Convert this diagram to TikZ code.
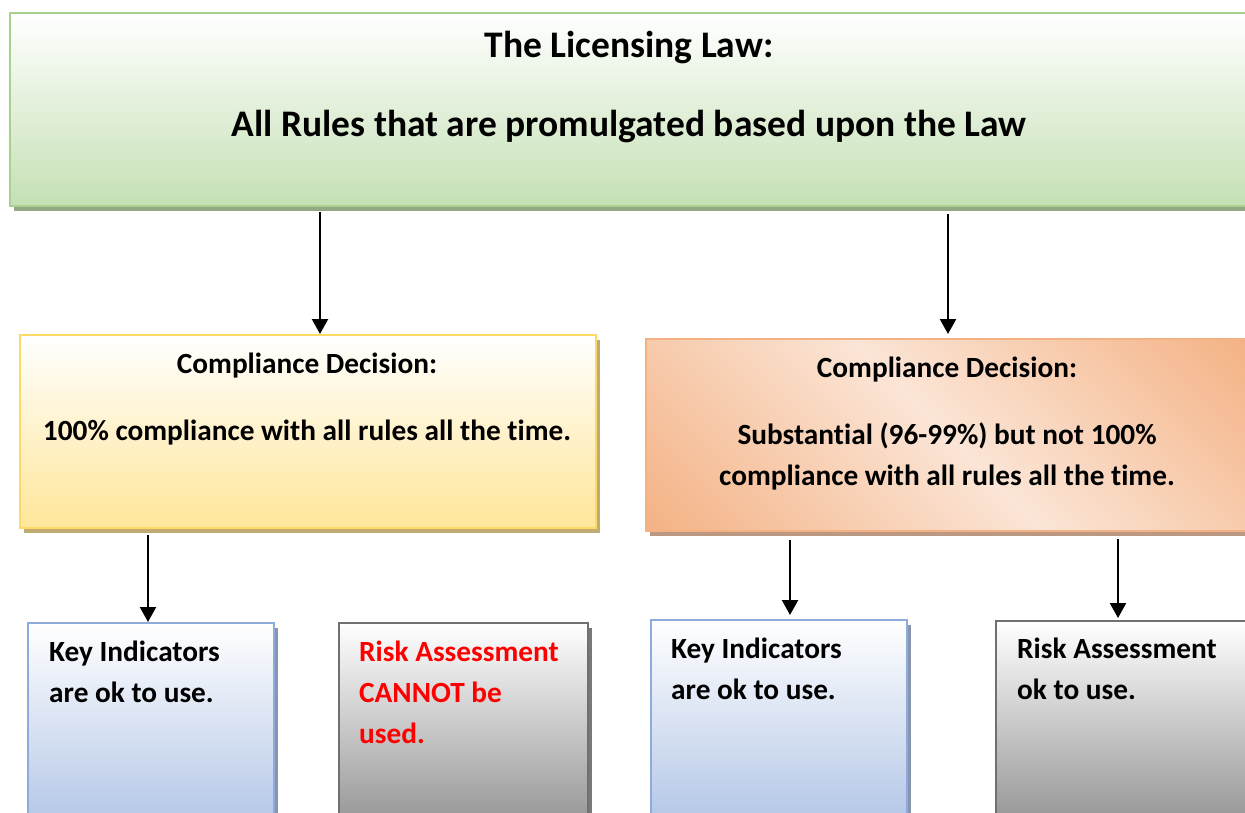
\documentclass[tikz,border=0pt]{standalone}
\usepackage{fontspec}
\setmainfont{Carlito}[Ligatures=NoCommon]
\usetikzlibrary{shadows,arrows.meta}

\definecolor{lawgreen}{HTML}{A9D18E}
\definecolor{lawfill}{HTML}{C5E0B4}
\definecolor{passgold}{HTML}{FFD966}
\definecolor{passfill}{HTML}{FFE699}
\definecolor{peachD}{HTML}{F4B183}
\definecolor{peachL}{HTML}{FBE5D6}
\definecolor{kiblue}{HTML}{8FAADC}
\definecolor{kifill}{HTML}{B4C7E7}
\definecolor{ragray}{HTML}{707070}
\definecolor{rafill}{HTML}{969696}
\definecolor{warnred}{HTML}{FF0000}

\pgfdeclarehorizontalshading{peachband}{100bp}{color(0bp)=(peachD); color(14bp)=(peachD); color(50bp)=(peachL); color(86bp)=(peachD); color(100bp)=(peachD)}

\tikzset{
    box/.style={draw=#1, line width=2pt, anchor=north west, inner sep=0pt,
        drop shadow={shadow xshift=4pt, shadow yshift=-5pt, fill=#1!50!gray, opacity=1}},
    big/.style={inner sep=0pt, font=\bfseries\fontsize{37.5}{44}\selectfont},
    txt/.style={inner sep=0pt, font=\bfseries\fontsize{29.3}{35}\selectfont},
    arr/.style={line width=2.2pt, -{Triangle[length=15pt,width=16pt]}}
}

\begin{document}
\begin{tikzpicture}[x=1pt,y=-1pt]
    \useasboundingbox (0,0) rectangle (1245,813);
    \clip (0,0) rectangle (1245,813);

    % the law and its rules
    \node[box=lawgreen, top color=white, bottom color=lawfill, minimum width=1240pt, minimum height=193pt] (law) at (9,12) {};
    \node[big, anchor=base] (lawA) at (629,58) {The Licensing Law:};
    \node[big, anchor=base] (lawB) at (629,137) {All Rules that are promulgated based upon the Law};

    % two compliance decisions
    \node[box=passgold, top color=white, bottom color=passfill, minimum width=576pt, minimum height=193pt] (pass) at (19,334) {};
    \node[txt, anchor=base] (passA) at (307,373) {Compliance Decision:};
    \node[txt, anchor=base] (passB) at (307,440) {100\% compliance with all rules all the time.};

    \node[box=peachD, shading=peachband, shading angle=45, minimum width=604pt, minimum height=192pt] (subst) at (645,338) {};
    \node[txt, anchor=base] (substA) at (947,377) {Compliance Decision:};
    \node[txt, anchor=base] (substB) at (947,444) {Substantial (96-99\%) but not 100\%};
    \node[txt, anchor=base] (substC) at (947,485) {compliance with all rules all the time.};

    % tools
    \node[box=kiblue, top color=white, bottom color=kifill, minimum width=246pt, minimum height=200pt] (ki1) at (27,622) {};
    \node[txt, anchor=base west] (ki1A) at (49,661) {Key Indicators};
    \node[txt, anchor=base west] (ki1B) at (49,702) {are ok to use.};

    \node[box=ragray, top color=white, bottom color=rafill, minimum width=249pt, minimum height=200pt] (ra1) at (338,622) {};
    \node[txt, text=warnred, anchor=base west] (ra1A) at (359,661) {Risk Assessment};
    \node[txt, text=warnred, anchor=base west] (ra1B) at (359,702) {CANNOT be};
    \node[txt, text=warnred, anchor=base west] (ra1C) at (359,743) {used.};

    \node[box=kiblue, top color=white, bottom color=kifill, minimum width=256pt, minimum height=200pt] (ki2) at (650,619) {};
    \node[txt, anchor=base west] (ki2A) at (671,658) {Key Indicators};
    \node[txt, anchor=base west] (ki2B) at (671,699) {are ok to use.};

    \node[box=ragray, top color=white, bottom color=rafill, minimum width=300pt, minimum height=200pt] (ra2) at (995,620) {};
    \node[txt, anchor=base west] (ra2A) at (1017,658) {Risk Assessment};
    \node[txt, anchor=base west] (ra2B) at (1017,699) {ok to use.};

    \draw[arr, shorten <=5pt] (law.south -| 320,0) -- (pass.north -| 320,0);
    \draw[arr, shorten <=7pt, shorten >=4pt] (law.south -| 948,0) -- (subst.north -| 948,0);
    \draw[arr, shorten <=6pt] (pass.south -| 148,0) -- (ki1.north -| 148,0);
    \draw[arr, shorten <=8pt, shorten >=4pt] (subst.south -| 790,0) -- (ki2.north -| 790,0);
    \draw[arr, shorten <=7pt, shorten >=2pt] (subst.south -| 1118,0) -- (ra2.north -| 1118,0);
\end{tikzpicture}
\end{document}
